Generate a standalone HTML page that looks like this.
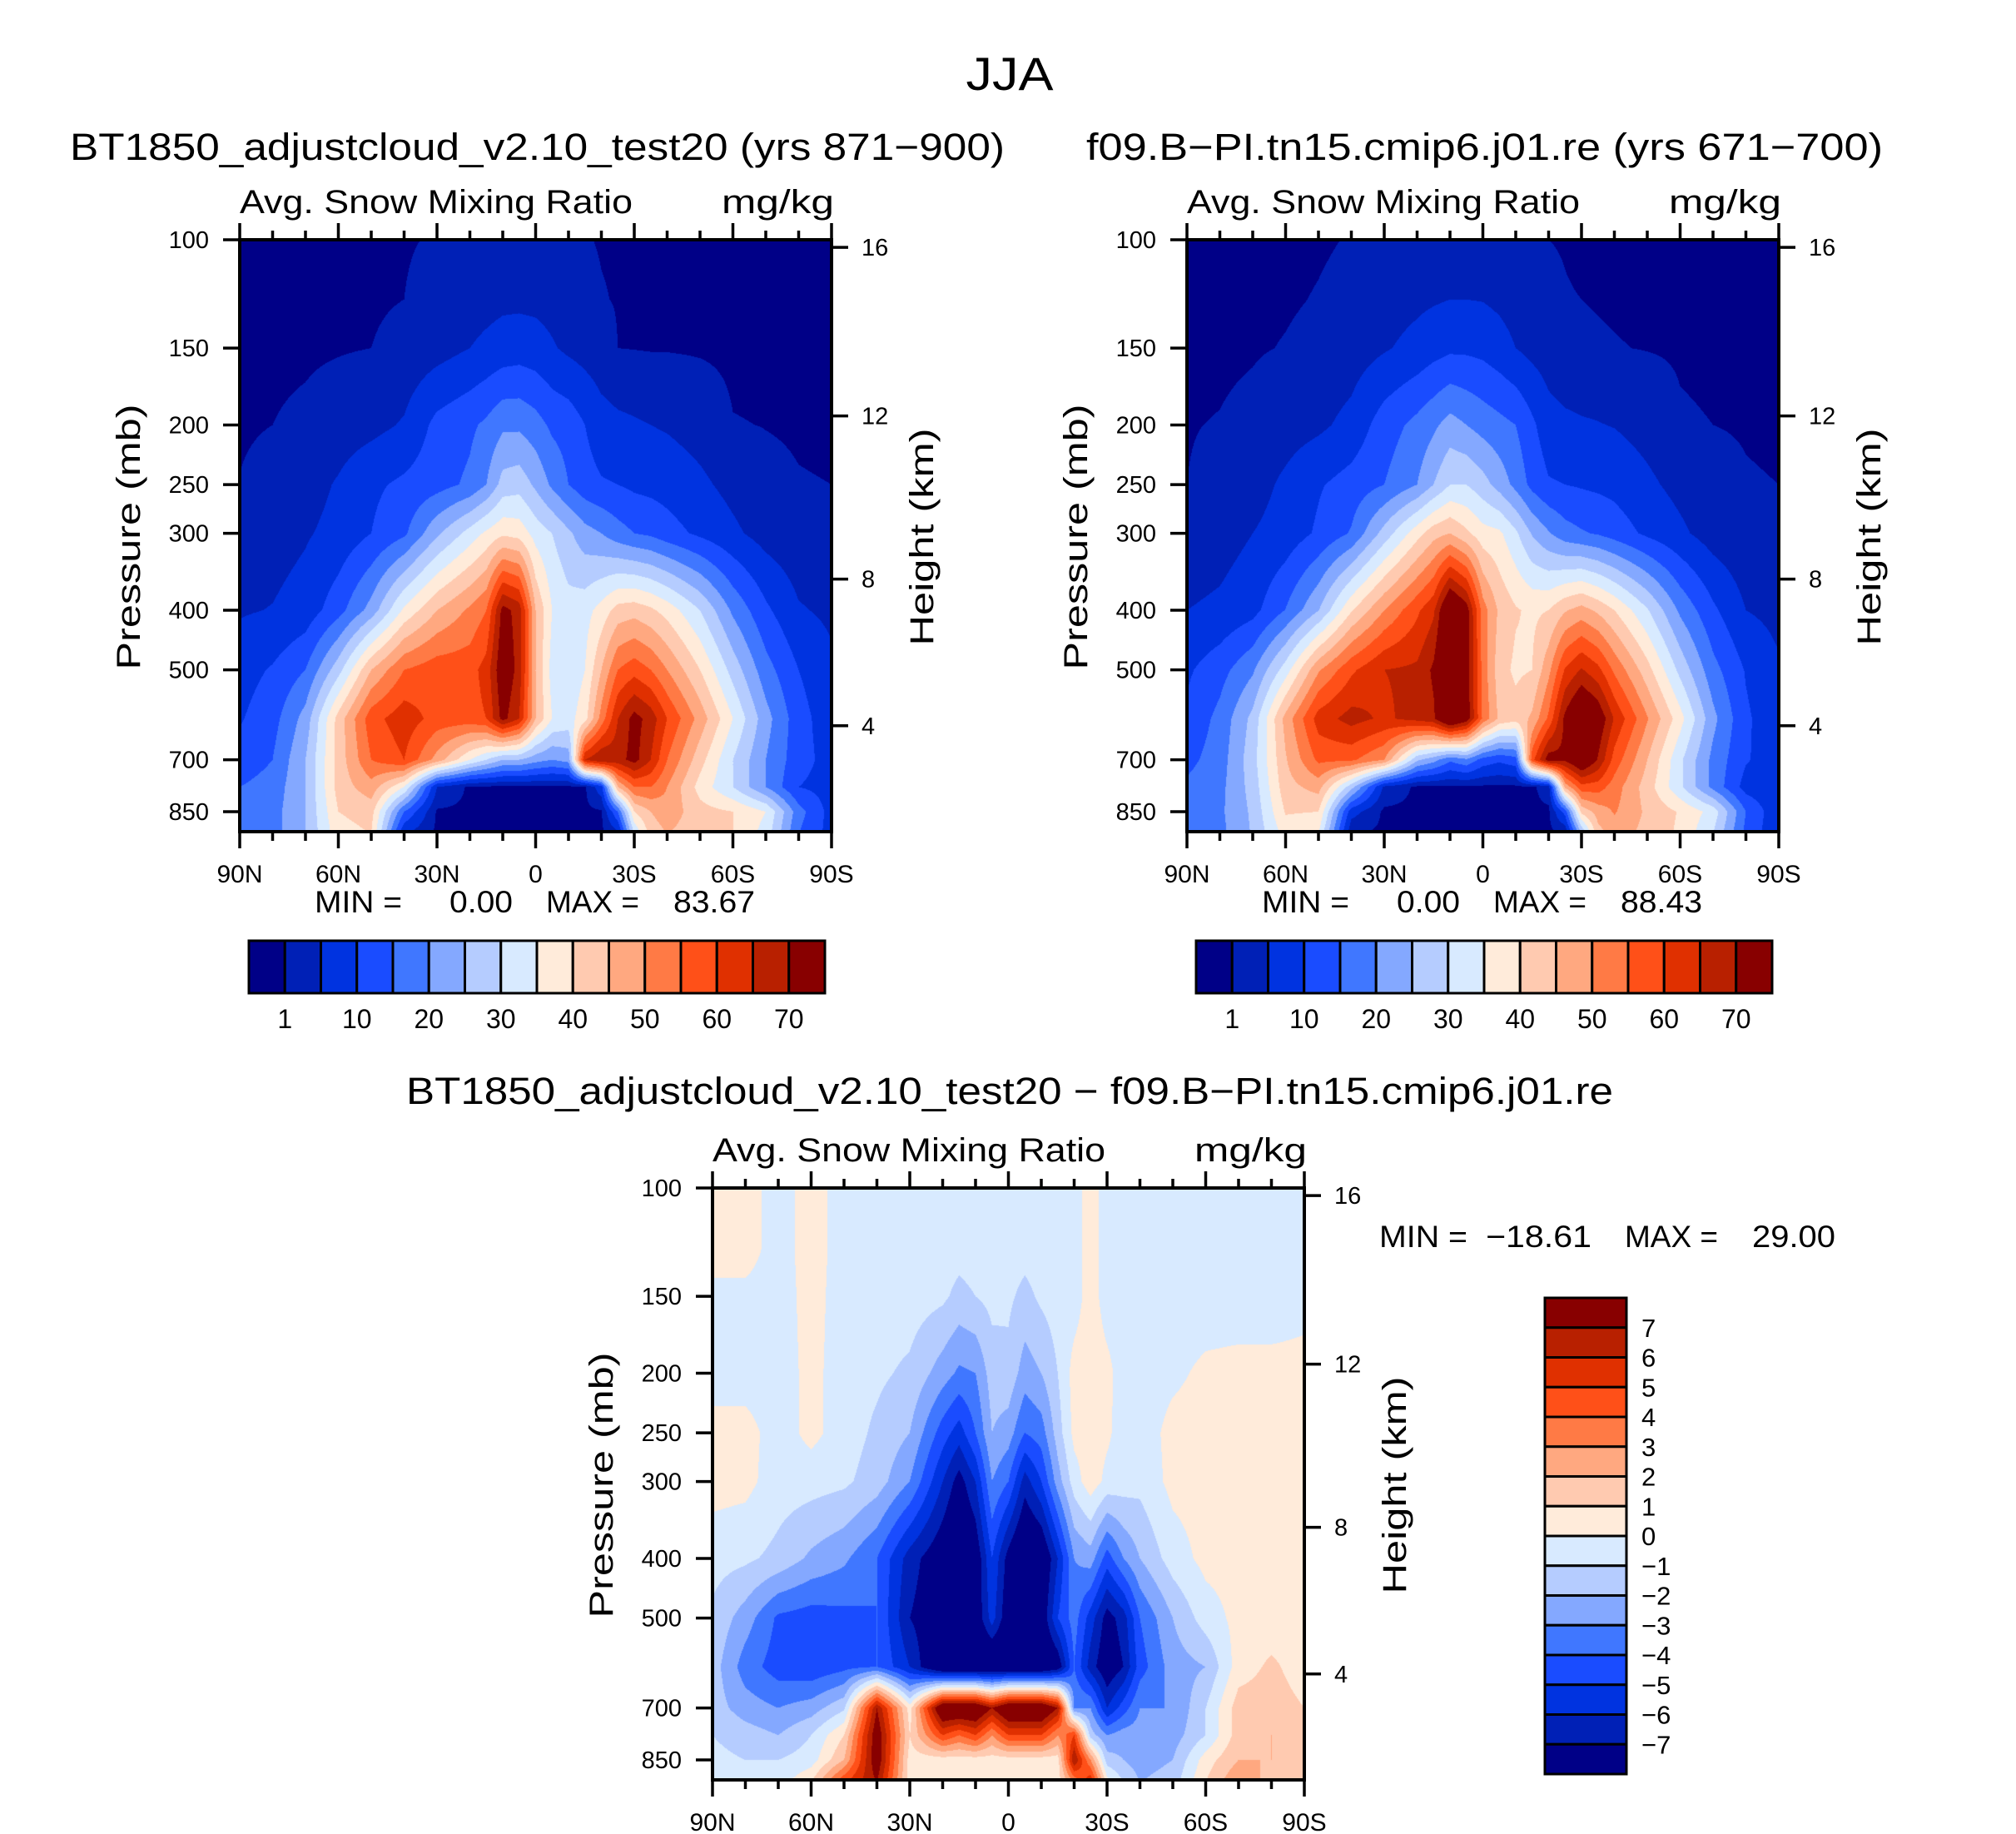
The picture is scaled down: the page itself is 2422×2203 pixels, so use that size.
<!DOCTYPE html>
<html><head><meta charset="utf-8">
<style>
html,body{margin:0;padding:0;background:#fff;}
#wrap{position:relative;width:2422px;height:2203px;overflow:hidden;background:#fff;}
canvas{position:absolute;}
svg{position:absolute;left:0;top:0;}
text{font-family:"Liberation Sans",sans-serif;fill:#000;}
</style></head>
<body>
<div id="wrap">
<canvas id="c1" width="711" height="711" style="left:288px;top:288px"></canvas>
<canvas id="c2" width="711" height="711" style="left:1426px;top:288px"></canvas>
<canvas id="c3" width="711" height="711" style="left:856px;top:1427px"></canvas>
<svg id="ov" width="2422" height="2203"></svg>
</div>
<script>
const lats=[90,80,70,60,50,40,30,20,15,10,5,0,-5,-10,-15,-20,-25,-30,-35,-40,-50,-60,-70,-80,-90];
const levels=[100,125,150,200,250,300,400,500,600,700,775,850,925];
const snowA=[
[0.3,0.3,0.4,0.5,0.6,0.8,1.2,1.5,1.6,1.6,1.6,1.5,1.4,1.3,1.1,0.9,0.8,0.6,0.5,0.5,0.4,0.3,0.3,0.3,0.3],
[0.3,0.4,0.5,0.6,0.8,1.0,2,3,3.5,4,4,3.8,3.3,2.5,1.5,1.1,0.9,0.8,0.7,0.6,0.5,0.4,0.3,0.3,0.3],
[0.4,0.5,0.6,0.8,1.0,1.5,3,5,6,7,7.5,7,5.5,4,3,2,1,0.9,0.8,0.8,0.7,0.5,0.4,0.4,0.4],
[0.8,1.0,1.5,2.5,3.5,5.5,11.5,14,16,19,19,17,14,13,10,7,6,5.5,5,4.5,3,1.1,0.95,0.8,0.7],
[1.05,1.6,3,5.5,9,11,13,16,20,27,28,24,19,15,12,10.5,10,9,8.5,8,6,3.5,1.5,1.1,1.0],
[2,3,4.5,6.5,10,14,24,32,36,39,38,33,30,26,22,20,17,15,14,12,9,6,3,1.5,1.2],
[4.5,5.2,7,13,22,36,45,51,55,72,68,45,35,32,33,37,42,43,41,38,30,19,11,5.5,4],
[8,10.5,15,28,45,55,58,58,62,75,68,45,33,31,35,45,55,58,55,50,40,28,17,10,6],
[9.5,13,22,42,58,63,58,58,60,72,65,45,35,33,38,52,65,72,68,60,48,35,22,12,7],
[12,15,25,42,55,60,48,35,30,25,25,22,20,22,65,70,68,72,65,55,42,30,20,12,8],
[15,17,25,42,48,35,5,0.3,0.3,0.3,0.3,0.3,0.3,0.3,0.5,8,45,55,55,50,38,30,20,10,8],
[17,18,25,40,42,15,0.5,0.3,0.3,0.3,0.3,0.3,0.3,0.3,0.3,0.5,15,40,45,48,42,40,35,17,8],
[17,18,25,38,40,5,0.3,0.3,0.3,0.3,0.3,0.3,0.3,0.3,0.3,0.3,3,30,42,45,42,40,33,15,8]
];
const snowB=[
[0.3,0.3,0.4,0.6,0.8,1.1,1.6,2,2,2,2,2,1.8,1.6,1.2,1.0,0.9,0.7,0.6,0.5,0.4,0.3,0.3,0.3,0.3],
[0.4,0.5,0.6,0.8,1.1,1.5,3,4,4.5,5,5,4.8,4,3,2,1.4,1.1,1,0.9,0.8,0.6,0.5,0.4,0.4,0.4],
[0.5,0.6,0.8,1.1,1.5,2.5,4.5,6.5,8,9,9,8.5,7,5,3.5,2.5,1.5,1.3,1.2,1.1,0.9,0.7,0.5,0.5,0.5],
[0.9,1.1,1.6,2.8,4,6.5,12.5,16.5,19,22,20,18,16.5,15,11,7,6,5.5,5.2,4.8,3.2,1.3,1.0,0.9,0.8],
[1.0,1.6,3,6,9.5,12,15,20,25,30,30,27,23,18.5,13.5,10.5,10,9.5,9,8.5,6,3.5,1.5,1.1,1.0],
[1.7,2.8,5,7,10.8,15.5,27,38,43,45,41,37,36,31,24.5,20.5,17,15.5,14.5,12.7,9,6,2.7,1.2,1.0],
[5,6,8.3,15.2,24.8,39.5,50,59,64,80,73,52.5,44,40.5,39,40,44.5,47,44,40,30.5,19,11,5,3.6],
[9.2,13,19.2,32.5,49.3,59,65,66,71,83,73.5,53,42,39,40,48.5,60.5,65.5,61.5,54,42,28.5,16.7,9.6,5.6],
[11,16.5,26.5,46.8,62.3,67,64,67,69,81,74,54,44,42,46,56,71.5,80,75,64.5,50.5,37,21.5,10.8,6.5],
[13.5,17.5,28,44.5,56.2,56,50,26,22,16,19,13,11,13,58,73,71,78,69.5,58,45,31,18.5,10.5,7],
[16,18.5,27,43,47,27,4,0.3,0.3,0.3,0.3,0.3,0.3,0.3,0.3,3,46.5,58,57.5,52.5,42.5,31,18.5,8,6],
[17.7,19,26,40.5,40,7,0.3,0.3,0.3,0.3,0.3,0.3,0.3,0.3,0.3,0.3,12,41.5,47,50.5,44,39.5,33,15,6],
[17.5,18.5,25.5,37,35,1,0.3,0.3,0.3,0.3,0.3,0.3,0.3,0.3,0.3,0.3,0.3,24,43,47,43.5,39,30,13.5,6]
];
const snowDiff=[
[0.5,0.5,-0.5,0.5,-0.5,-0.5,-0.5,-0.5,-0.5,-0.5,-0.5,-0.5,-0.5,-0.5,-0.5,-0.5,0.5,-0.5,-0.5,-0.5,-0.5,-0.5,-0.5,-0.5,-0.5],
[0.5,0.5,-0.5,0.5,-0.5,-0.5,-0.5,-0.5,-0.6,-0.5,-0.5,-0.5,-0.6,-0.5,-0.5,-0.5,0.5,-0.5,-0.5,-0.5,-0.5,-0.5,-0.5,-0.5,-0.5],
[-0.3,-0.3,-0.5,0.4,-0.5,-0.5,-0.5,-0.8,-1.3,-1,-0.7,-0.8,-1.3,-0.8,-0.5,-0.5,0.5,-0.5,-0.5,-0.5,-0.5,-0.5,-0.5,-0.5,-0.3],
[-0.5,-0.5,-0.5,0.3,-0.5,-0.8,-1.2,-2.5,-3.2,-3,-1.5,-1.3,-2.5,-2,-1,0.4,0.6,0.3,-0.5,-0.5,-0.2,0.2,0.3,0.3,0.3],
[0.4,0.4,-0.5,0.3,-0.5,-1.2,-2,-4.5,-5.5,-4,-2,-2.5,-4,-3.5,-1.5,0.3,0.5,0.2,-0.5,-0.5,0.3,0.4,0.4,0.4,0.4],
[0.4,0.3,-0.5,-0.6,-0.8,-1.5,-3,-6,-7.5,-6,-3,-4,-6.5,-5,-2.5,-0.5,0.6,-0.3,-0.5,-0.7,0.3,0.4,0.4,0.4,0.4],
[-0.6,-0.8,-1.3,-2.2,-2.8,-4,-6.5,-8,-9,-8,-5,-7.5,-9,-8.5,-6,-3,-2.5,-4.5,-3,-2,-0.5,0.3,0.4,0.4,0.4],
[-1.2,-2.5,-4.2,-4.5,-4.3,-4,-7,-8,-9,-8,-5.5,-8,-9,-8,-5,-3.5,-5.5,-7.5,-6.5,-4,-2,-0.5,0.3,0.4,0.4],
[-1.5,-3.5,-4.5,-4.8,-4.3,-4,-6,-9,-9,-9,-9,-9,-9,-9,-8,-4,-6.5,-8,-7,-4.5,-2.5,-2,0.5,1.2,0.5],
[-1.5,-2.5,-3,-2.5,-1.2,7,0.5,9,9,9,7,9,9,9,7,-3,-3,-6,-4.5,-3,-3,-1,1.5,1.5,1],
[-1,-1.5,-2,-1,1,8,1,5,4,5,3,5,5,5,3,5,-1.5,-3,-2.5,-2.5,-2.5,-1,1.5,2,1],
[-0.7,-1,-1,-0.5,2,8,0.5,0.5,0.5,0.5,0.5,0.5,0.5,0.5,0.5,7,3,-1.5,-2,-2.5,-2,0.5,2,2,1],
[-0.5,-0.5,-0.5,1,5,7,0.5,0.5,0.5,0.5,0.5,0.5,0.5,0.5,0.5,3,6,0.5,-1,-2,-1.5,1,3,1.5,1]
];
const levelsAbs=[1,5,10,15,20,25,30,35,40,45,50,55,60,65,70];
const levelsDiff=[-7,-6,-5,-4,-3,-2,-1,0,1,2,3,4,5,6,7];
const absTickLabels=["1","10","20","30","40","50","60","70"];
const diffTickLabels=["7","6","5","4","3","2","1","0","\u22121","\u22122","\u22123","\u22124","\u22125","\u22126","\u22127"];
const pressTicks=[100,150,200,250,300,400,500,700,850];
const heightTicks=[4,8,12,16];
const latTicks=[90,60,30,0,-30,-60,-90];
const latTickLabels=["90N","60N","30N","0","30S","60S","90S"];
const palette=["#000087","#0020b6","#0033e0","#1a4cff","#4077ff","#84a8ff","#b5ccff","#d8eaff","#ffebda","#ffcab0","#ffa880","#ff7a45","#ff5018","#e03000","#b82000","#880000"];

const SZ=711, PSC=321;
function xOfLat(lat){return (90-lat)/180*SZ;}
function yOfP(p){return PSC*Math.log(p/100);}
function pOfZ(zkm){const z=zkm*1000;return z<=11000?1013.25*Math.pow(1-2.25577e-5*z,5.25588):226.32*Math.exp(-(z-11000)/6341.6);}
function hex(c){return [parseInt(c.slice(1,3),16),parseInt(c.slice(3,5),16),parseInt(c.slice(5,7),16)];}
const rgb=palette.map(hex);
const lnLev=levels.map(p=>Math.log(p));

function sample(field,lat,p){
  let i=0; while(i<lats.length-2 && lat<lats[i+1]) i++;
  let tx=(lats[i]-lat)/(lats[i]-lats[i+1]); tx=Math.max(0,Math.min(1,tx));
  const lp=Math.log(p);
  let j=0; while(j<levels.length-2 && lp>lnLev[j+1]) j++;
  let ty=(lp-lnLev[j])/(lnLev[j+1]-lnLev[j]); ty=Math.max(0,Math.min(1,ty));
  const a=field[j][i],b=field[j][i+1],c=field[j+1][i],d=field[j+1][i+1];
  return (a*(1-tx)+b*tx)*(1-ty)+(c*(1-tx)+d*tx)*ty;
}
function drawField(id,field,bounds){
  const cv=document.getElementById(id),ctx=cv.getContext('2d');
  const img=ctx.createImageData(SZ,SZ);
  for(let y=0;y<SZ;y++){
    const p=100*Math.exp((y+0.5)/PSC);
    for(let x=0;x<SZ;x++){
      const lat=90-(x+0.5)/SZ*180;
      const v=sample(field,lat,p);
      let k=0; while(k<bounds.length && v>=bounds[k]) k++;
      const c=rgb[k],o=(y*SZ+x)*4;
      img.data[o]=c[0];img.data[o+1]=c[1];img.data[o+2]=c[2];img.data[o+3]=255;
    }
  }
  ctx.putImageData(img,0,0);
}
drawField('c1',snowA,levelsAbs);
drawField('c2',snowB,levelsAbs);
drawField('c3',snowDiff,levelsDiff);

const NS="http://www.w3.org/2000/svg";
const ov=document.getElementById('ov');
function mk(tag,attrs,parent){const e=document.createElementNS(NS,tag);for(const k in attrs)e.setAttribute(k,attrs[k]);(parent||ov).appendChild(e);return e;}
function txt(s,x,y,size,anchor,len,parent){const t=mk('text',{x:x,y:y,'font-size':size,'text-anchor':anchor||'start'},parent);if(len){t.setAttribute('textLength',len);t.setAttribute('lengthAdjust','spacingAndGlyphs');}t.textContent=s;return t;}
function line(x1,y1,x2,y2,w,parent){return mk('line',{x1:x1,y1:y1,x2:x2,y2:y2,stroke:'#000','stroke-width':w||4},parent);}

function axes(ox,oy,name){
  const g=mk('g',{});
  
  
  mk('rect',{x:ox,y:oy,width:SZ,height:SZ,fill:'none',stroke:'#000','stroke-width':4},g);
  for(let lat=90;lat>=-90;lat-=10){
    const x=ox+xOfLat(lat),major=(lat%30===0),L=major?20:11;
    line(x,oy,x,oy-L,3.5,g); line(x,oy+SZ,x,oy+SZ+L,3.5,g);
  }
  latTicks.forEach((lat,i)=>{const t=txt(latTickLabels[i],ox+xOfLat(lat),oy+SZ+61,30,'middle',null,g);
    });
  pressTicks.forEach(p=>{const y=oy+yOfP(p);line(ox,y,ox-20,y,3.5,g);
    const t=txt(String(p),ox-37,y+10,29,'end',null,g);
    });
  heightTicks.forEach(h=>{const y=oy+yOfP(pOfZ(h));line(ox+SZ,y,ox+SZ+20,y,3.5,g);
    const t=txt(String(h),ox+SZ+36,y+10,29,'start',null,g);
    });
  const py=txt('Pressure (mb)',0,0,40,'middle',319,g);
  py.setAttribute('transform','translate('+(ox-120)+','+(oy+357)+') rotate(-90)');
  
  const hy=txt('Height (km)',0,0,40,'middle',261,g);
  hy.setAttribute('transform','translate('+(ox+833)+','+(oy+357)+') rotate(-90)');
  
  const av=txt('Avg. Snow Mixing Ratio',ox,oy-32,40,'start',472,g);
  
  const un=txt('mg/kg',ox+579,oy-32,40,'start',135,g);
  
}
axes(288,288,'panel-1');
axes(1426,288,'panel-2');
axes(856,1427,'panel-diff');

function hbar(x0,y0,name){
  const g=mk('g',{});
  
  
  const w=692/16;
  palette.forEach((c,i)=>mk('rect',{x:x0+i*w,y:y0,width:w,height:63,fill:c,stroke:'#000','stroke-width':3},g));
  levelsAbs.forEach((v,i)=>{const lab=absTickLabels.indexOf(String(v));
    if(lab>=0){const t=txt(absTickLabels[lab],x0+(i+1)*w,y0+105,32,'middle',null,g);
      }});
}
hbar(299,1130,'colorbar-panel-1');
hbar(1437,1130,'colorbar-panel-2');

(function(){
  const g=mk('g',{});
  
  
  const x0=1856,y0=1559,h=572/16;
  palette.slice().reverse().forEach((c,i)=>mk('rect',{x:x0,y:y0+i*h,width:98,height:h,fill:c,stroke:'#000','stroke-width':3},g));
  diffTickLabels.forEach((s,i)=>{const t=txt(s,1972,y0+(i+1)*h+11,31,'start',null,g);
    });
})();

function label(s,x,y,size,anchor,len,name){const t=txt(s,x,y,size,anchor,len);
  return t;}
label('JJA',1213,108,56,'middle',105,'figure-title');
label('BT1850_adjustcloud_v2.10_test20 (yrs 871\u2212900)',84,192,45,'start',1123,'panel-1-title');
label('f09.B\u2212PI.tn15.cmip6.j01.re (yrs 671\u2212700)',1305,192,45,'start',957,'panel-2-title');
label('BT1850_adjustcloud_v2.10_test20 \u2212 f09.B\u2212PI.tn15.cmip6.j01.re',488,1326,45,'start',1450,'diff-title');
label('MIN =',378,1096,37,'start',105,'min-label');
label('0.00',540,1096,37,'start',76,'min-value');
label('MAX =',656,1096,37,'start',112,'max-label');
label('83.67',809,1096,37,'start',98,'max-value');
label('MIN =',1516,1096,37,'start',105,'min-label');
label('0.00',1678,1096,37,'start',76,'min-value');
label('MAX =',1794,1096,37,'start',112,'max-label');
label('88.43',1947,1096,37,'start',98,'max-value');
label('MIN =',1657,1498,37,'start',106,'min-label');
label('\u221218.61',1785,1498,37,'start',127,'min-value');
label('MAX =',1952,1498,37,'start',112,'max-label');
label('29.00',2105,1498,37,'start',100,'max-value');
</script>
</body></html>
